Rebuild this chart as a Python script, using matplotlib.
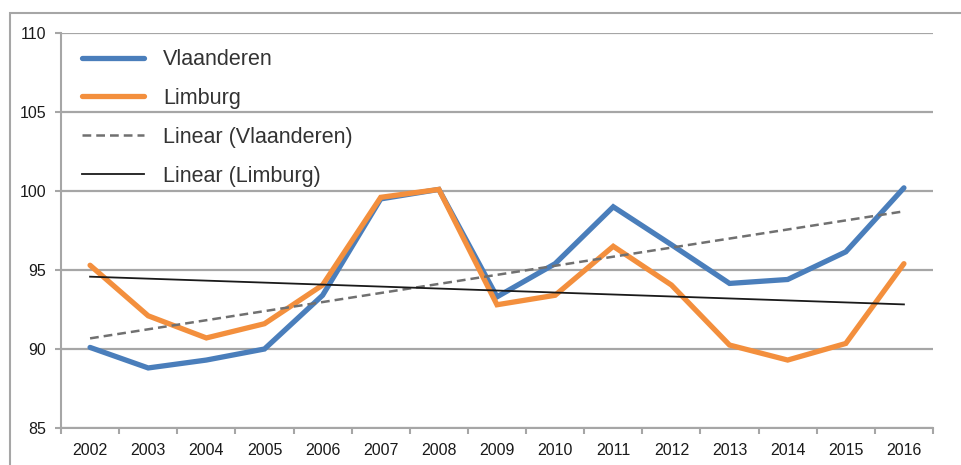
import numpy as np
import matplotlib
matplotlib.use("Agg")
import matplotlib.pyplot as plt
from matplotlib.patches import Rectangle

years = ["2002", "2003", "2004", "2005", "2006", "2007", "2008", "2009",
         "2010", "2011", "2012", "2013", "2014", "2015", "2016"]
vlaanderen = [90.1, 88.8, 89.3, 90.0, 93.4, 99.5, 100.1, 93.3,
              95.4, 99.0, 96.6, 94.15, 94.4, 96.15, 100.2]
limburg = [95.3, 92.1, 90.7, 91.6, 94.05, 99.6, 100.1, 92.8,
           93.4, 96.5, 94.05, 90.25, 89.3, 90.35, 95.4]

plt.rcParams['font.family'] = ['Liberation Sans', 'DejaVu Sans']

fig = plt.figure(figsize=(9.62, 4.65), dpi=100)
ax = fig.add_axes([61/962, 37/465, (933-61)/962, (428-33)/465])

# outer frame
fig.patches.append(Rectangle((10/962, -0.1), 1.2, (465-13)/465 + 0.1,
                             transform=fig.transFigure, fill=False,
                             edgecolor='#a6a6a6', lw=1.5, zorder=0))

x = np.arange(len(years))
ax.plot(x, vlaanderen, color='#4a7ebb', lw=3.8, label='Vlaanderen',
        solid_capstyle='round', solid_joinstyle='miter', zorder=3)
ax.plot(x, limburg, color='#f38f3d', lw=3.8, label='Limburg',
        solid_capstyle='round', solid_joinstyle='miter', zorder=3)

# linear trend lines
pv = np.polyfit(x, vlaanderen, 1)
pl = np.polyfit(x, limburg, 1)
ax.plot(x, np.polyval(pv, x), color='#707070', lw=1.8, ls=(0, (3.5, 2)),
        label='Linear (Vlaanderen)', zorder=4)
ax.plot(x, np.polyval(pl, x), color='#1a1a1a', lw=1.3,
        label='Linear (Limburg)', zorder=4)

ax.set_xlim(-0.5, len(years) - 0.5)
ax.set_ylim(85, 110)
ax.set_yticks([85, 90, 95, 100, 105, 110])
ax.set_xticks(x)
ax.set_xticklabels(years)
ax.set_xticks(np.arange(-0.5, len(years)), minor=True)

ax.tick_params(axis='both', labelsize=11.5, labelcolor='#1a1a1a')
ax.tick_params(axis='x', which='major', length=0, pad=11)
ax.tick_params(axis='x', which='minor', length=4.5, width=1.5, color='#a6a6a6', direction='out')
ax.tick_params(axis='y', length=4.5, width=1.5, color='#a6a6a6', pad=6)

ax.grid(axis='y', color='#a6a6a6', lw=1.6, zorder=1)
for s in ['top', 'right']:
    ax.spines[s].set_visible(False)
for s in ['left', 'bottom']:
    ax.spines[s].set_color('#a6a6a6')
    ax.spines[s].set_linewidth(1.5)

leg = ax.legend(loc='upper left', bbox_to_anchor=(0.005, 1.0), frameon=False,
                fontsize=15.5, handlelength=2.9, labelspacing=0.83,
                handletextpad=0.9, borderaxespad=0.45, borderpad=0.3)
for t in leg.get_texts():
    t.set_color('#333333')

fig.savefig("out.png", dpi=100)
